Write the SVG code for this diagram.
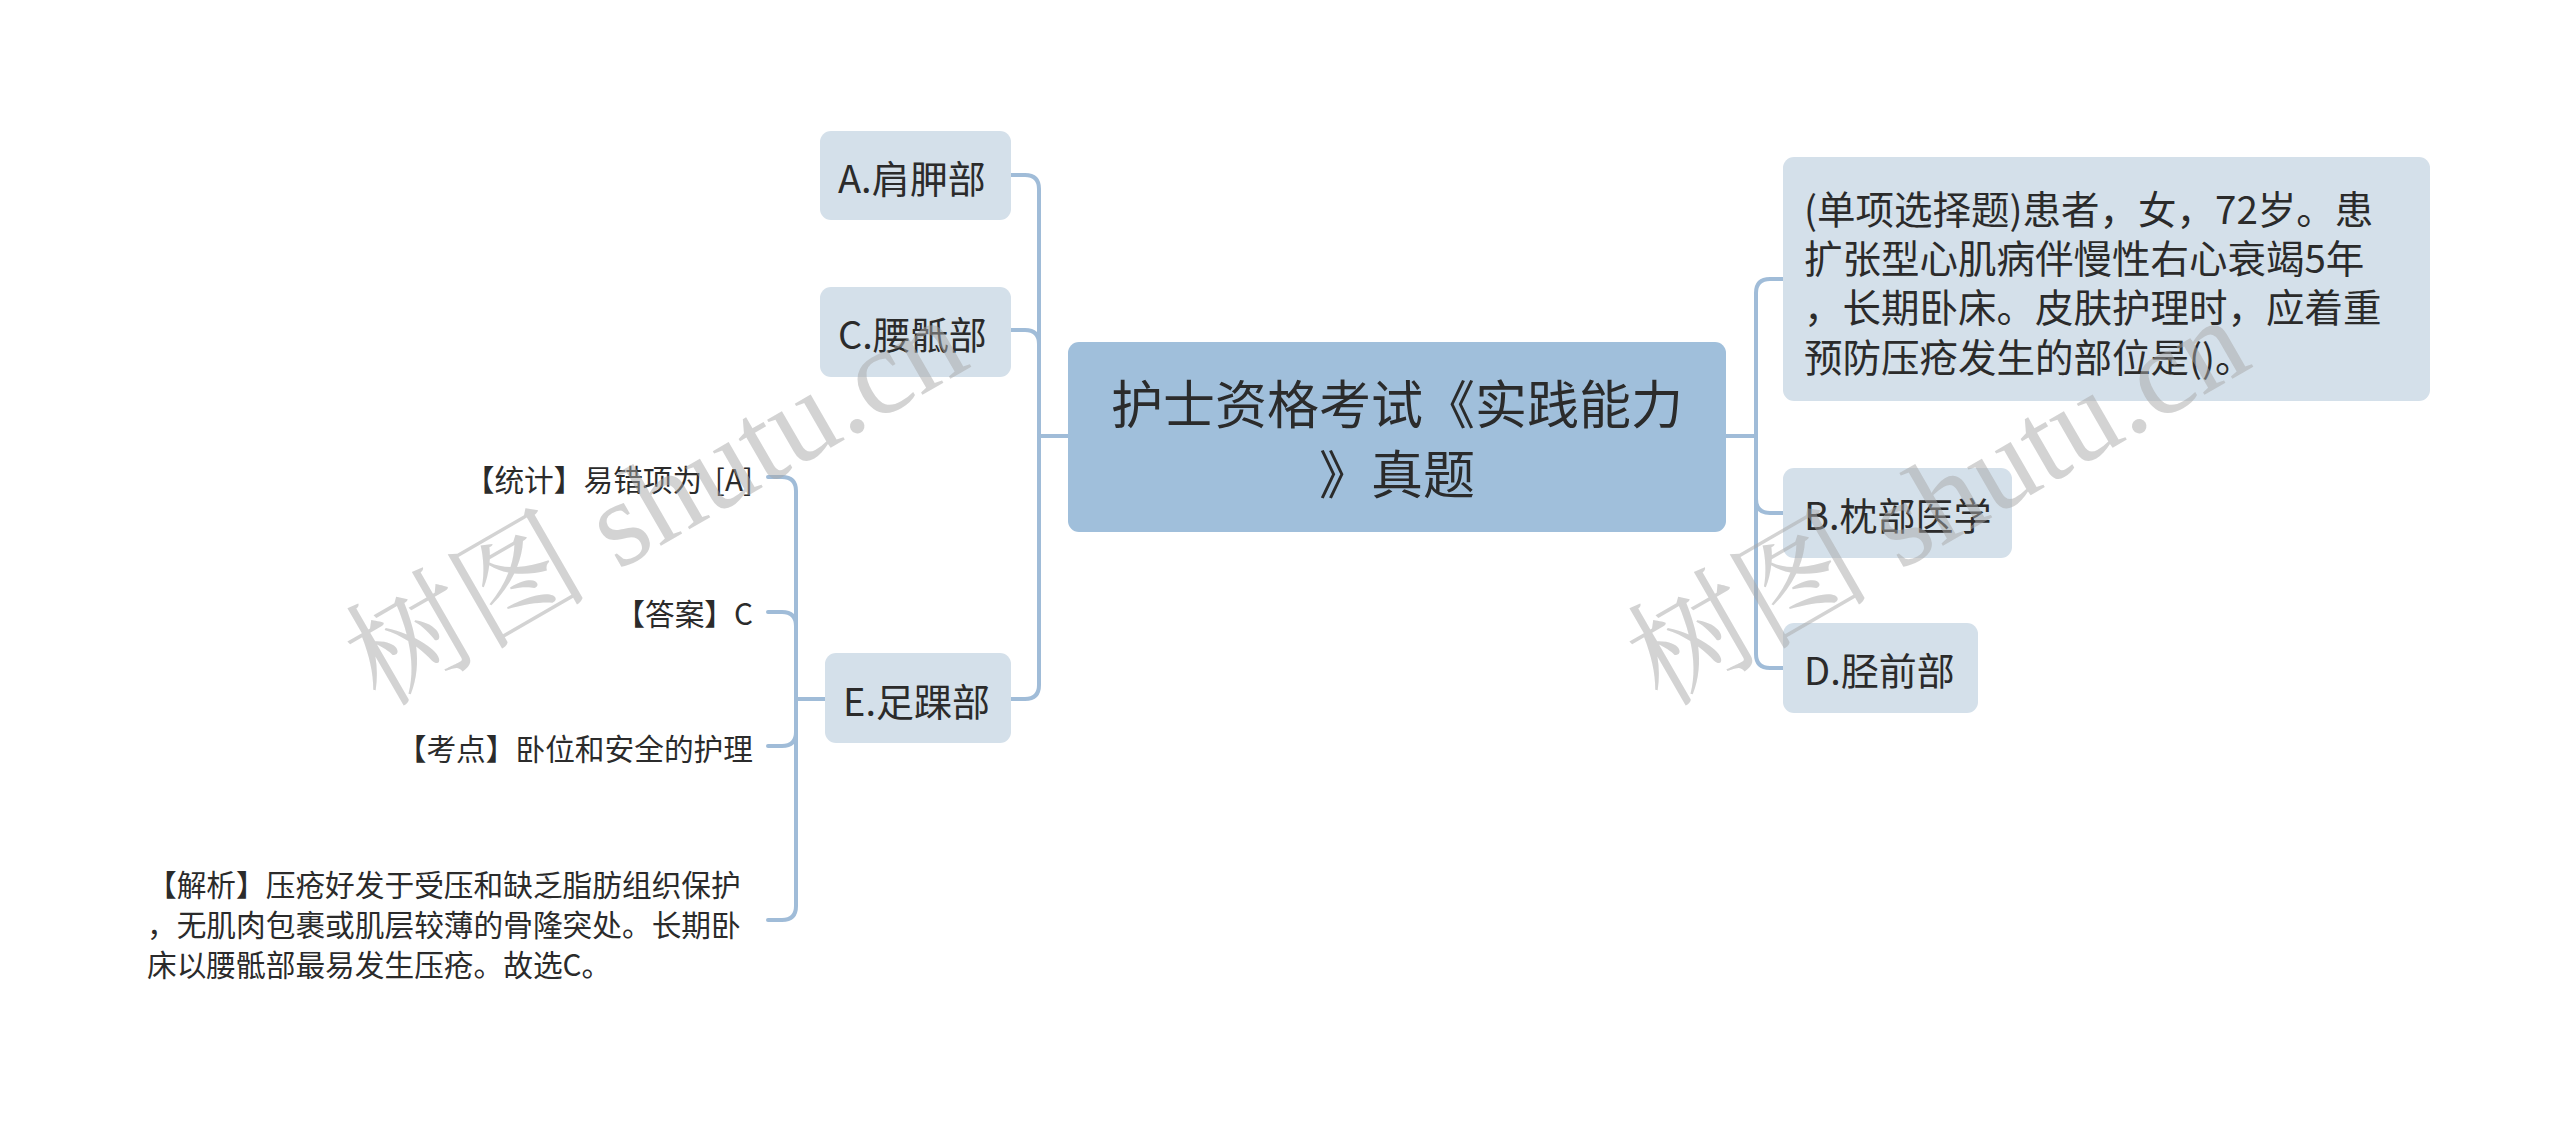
<svg xmlns="http://www.w3.org/2000/svg" width="2560" height="1123" viewBox="0 0 2560 1123">
<style>
text{font-family:"Noto Sans CJK SC","Noto Sans",sans-serif;fill:#2b2b2b;}
.sub{fill:#d4e0ea;}
.root{fill:#a0bfdb;}
.lbl{font-size:38px;dominant-baseline:central;}
.q{font-size:38.5px;dominant-baseline:central;}
.sm{font-size:29.7px;dominant-baseline:central;}
.title{font-size:52px;dominant-baseline:central;text-anchor:middle;}
.wire{fill:none;stroke:#a0bcd8;stroke-width:4;stroke-linecap:round;}
.wm{font-family:"Liberation Serif","Noto Serif CJK SC","Noto Sans CJK SC",serif;font-size:122px;fill:#a8a8a8;fill-opacity:0.5;}
</style>
<rect width="2560" height="1123" fill="#ffffff"/>
<g id="connectors" class="wire">
<path d="M1011,175 H1025 Q1039,175 1039,189 V685 Q1039,699 1025,699 H1011"/>
<path d="M1011,330 H1025 Q1039,330 1039,344"/>
<path d="M1039,436 H1068"/>
<path d="M1783,279 H1770 Q1756,279 1756,293 V654 Q1756,668 1770,668 H1783"/>
<path d="M1756,499 Q1756,513 1770,513 H1783"/>
<path d="M1726,436 H1756"/>
<path d="M768,477 H782 Q796,477 796,491 V906 Q796,920 782,920 H768"/>
<path d="M768,612 H782 Q796,612 796,626"/>
<path d="M768,746 H782 Q796,746 796,732"/>
<path d="M796,699 H825"/>
</g>
<g id="root">
<rect class="root" x="1068" y="342" width="658" height="190" rx="11"/>
<text class="title" x="1397" y="401">护士资格考试《实践能力</text>
<text class="title" x="1397" y="471">》真题</text>
</g>
<g id="nodeA">
<rect class="sub" x="820" y="131" width="191" height="89" rx="11"/>
<text class="lbl" x="838" y="176">A.肩胛部</text>
</g>
<g id="nodeC">
<rect class="sub" x="820" y="287" width="191" height="90" rx="11"/>
<text class="lbl" x="838" y="332">C.腰骶部</text>
</g>
<g id="nodeE">
<rect class="sub" x="825" y="653" width="186" height="90" rx="11"/>
<text class="lbl" x="843" y="699">E.足踝部</text>
</g>
<g id="nodeQ">
<rect class="sub" x="1783" y="157" width="647" height="244" rx="11"/>
<text class="q" x="1804" y="207">(单项选择题)患者，女，72岁。患</text>
<text class="q" x="1804" y="256">扩张型心肌病伴慢性右心衰竭5年</text>
<text class="q" x="1804" y="305">，长期卧床。皮肤护理时，应着重</text>
<text class="q" x="1804" y="355">预防压疮发生的部位是()。</text>
</g>
<g id="nodeB">
<rect class="sub" x="1783" y="468" width="229" height="90" rx="11"/>
<text class="lbl" x="1804" y="513">B.枕部医学</text>
</g>
<g id="nodeD">
<rect class="sub" x="1783" y="623" width="195" height="90" rx="11"/>
<text class="lbl" x="1804" y="668">D.胫前部</text>
</g>
<g id="stat">
<text class="sm" x="753" y="478" text-anchor="end" word-spacing="6">【统计】易错项为 [A]</text>
</g>
<g id="answer">
<text class="sm" x="753" y="612" text-anchor="end">【答案】C</text>
</g>
<g id="point">
<text class="sm" x="753" y="747" text-anchor="end">【考点】卧位和安全的护理</text>
</g>
<g id="analysis">
<text class="sm" x="147" y="883">【解析】压疮好发于受压和缺乏脂肪组织保护</text>
<text class="sm" x="147" y="923">，无肌肉包裹或肌层较薄的骨隆突处。长期卧</text>
<text class="sm" x="147" y="963">床以腰骶部最易发生压疮。故选C。</text>
</g>
<g id="watermark">
<text class="wm" x="380" y="708" transform="rotate(-30 380 708)">树图 shutu.cn</text>
<text class="wm" x="1662" y="708" transform="rotate(-30 1662 708)">树图 shutu.cn</text>
</g>
</svg>
